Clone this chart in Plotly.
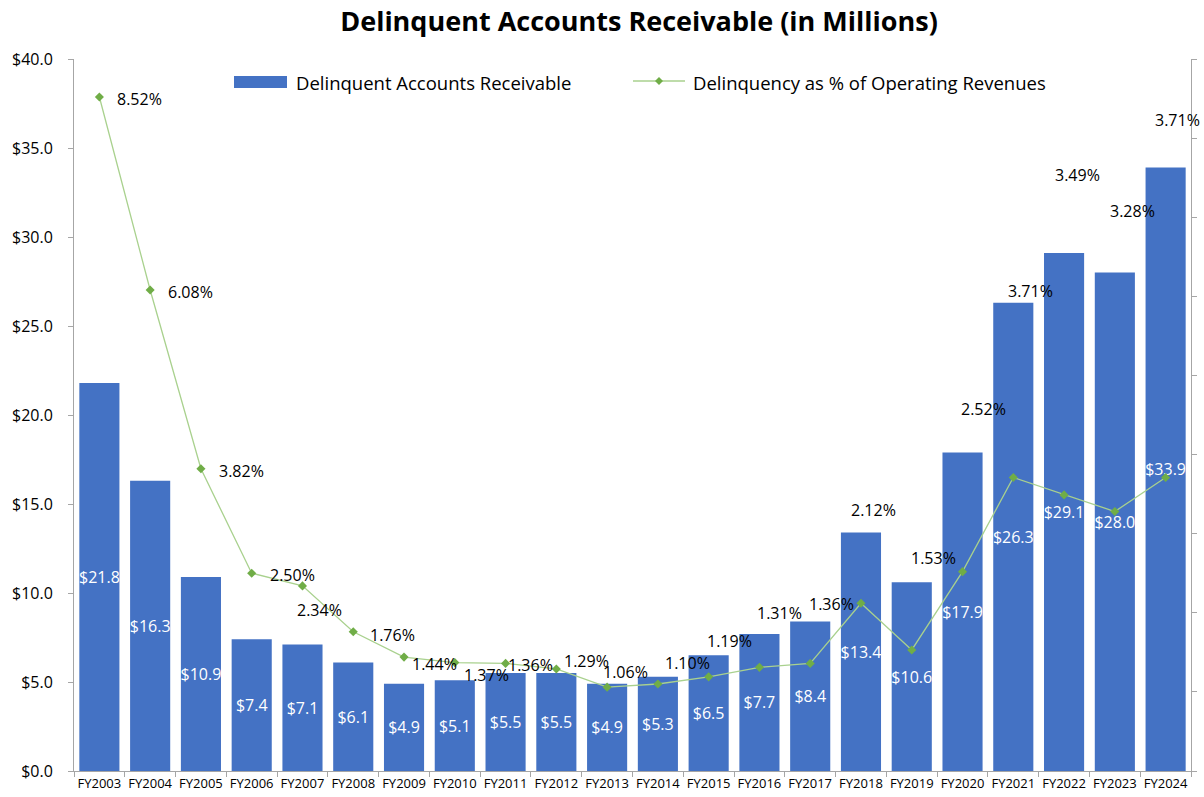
import plotly.graph_objects as go

# Fiscal years and values
years = ["FY2003", "FY2004", "FY2005", "FY2006", "FY2007", "FY2008", "FY2009",
         "FY2010", "FY2011", "FY2012", "FY2013", "FY2014", "FY2015", "FY2016",
         "FY2017", "FY2018", "FY2019", "FY2020", "FY2021", "FY2022", "FY2023",
         "FY2024"]
receivable_musd = [21.8, 16.3, 10.9, 7.4, 7.1, 6.1, 4.9, 5.1, 5.5, 5.5, 4.9,
                   5.3, 6.5, 7.7, 8.4, 13.4, 10.6, 17.9, 26.3, 29.1, 28.0, 33.9]
delinquency_pct = [8.52, 6.08, 3.82, 2.50, 2.34, 1.76, 1.44, 1.37, 1.36, 1.29,
                   1.06, 1.10, 1.19, 1.31, 1.36, 2.12, 1.53, 2.52, 3.71, 3.49,
                   3.28, 3.71]

# Pixel offsets (right, down) of each percentage label from its marker
pct_label_offsets = [(17, 2), (17, 2), (17, 2), (17, 2), (-6, 24), (16, 3),
                     (7, 7), (8, 12), (1, 2), (7, -8), (-5, -15), (6, -21),
                     (-3, -36), (-3, -54), (-2, -59), (-11, -93), (-2, -92),
                     (-3, -163), (-6, -187), (-10, -320), (-6, -301),
                     (-12, -358)]

BAR_BLUE = "#4472C4"
LINE_GREEN = "#A9D18E"
MARKER_GREEN = "#70AD47"
AXIS_GREY = "#A6A6A6"
FONT = "Open Sans"

W, H = 1204, 797
M_L, M_R, M_T, M_B = 74, 13, 59, 26
PLOT_W = W - M_L - M_R
PLOT_H = H - M_T - M_B


def px_x(x):
    return (x - M_L) / PLOT_W


def px_y(y):
    return (H - M_B - y) / PLOT_H


fig = go.Figure()

fig.add_trace(go.Bar(
    x=years, y=receivable_musd, name="Delinquent Accounts Receivable",
    marker=dict(color=BAR_BLUE, line=dict(width=0)),
    texttemplate="$%{y:.1f}", textposition="inside", insidetextanchor="middle",
    textangle=0, constraintext="none",
    textfont=dict(color="white", size=16, family=FONT),
    cliponaxis=False, showlegend=False,
))

fig.add_trace(go.Scatter(
    x=years, y=delinquency_pct, yaxis="y2",
    name="Delinquency as % of Operating Revenues",
    mode="lines+markers",
    line=dict(color=LINE_GREEN, width=1.3),
    marker=dict(symbol="diamond", size=7, color=MARKER_GREEN),
    showlegend=False,
))

annotations = []
for yr, pct, (dx, dy) in zip(years, delinquency_pct, pct_label_offsets):
    annotations.append(dict(
        x=yr, y=pct, xref="x", yref="y2", text=f"{pct:.2f}%",
        showarrow=False, xanchor="left", yanchor="middle",
        xshift=dx, yshift=-dy, borderpad=0,
        font=dict(size=16, color="#000000", family=FONT),
    ))

# Legend drawn along the top of the plot area
annotations += [
    dict(x=px_x(294), y=px_y(82), xref="paper", yref="paper",
         text="Delinquent Accounts Receivable", showarrow=False,
         xanchor="left", yanchor="middle",
         font=dict(size=18.5, color="#000000", family=FONT)),
    dict(x=px_x(691), y=px_y(82), xref="paper", yref="paper",
         text="Delinquency as % of Operating Revenues", showarrow=False,
         xanchor="left", yanchor="middle",
         font=dict(size=18.5, color="#000000", family=FONT)),
]

dx0 = px_x(659)
dy0 = px_y(81)
dw = 4 / PLOT_W
dh = 4 / PLOT_H
shapes = [
    dict(type="rect", xref="paper", yref="paper",
         x0=px_x(234), x1=px_x(287), y0=px_y(88), y1=px_y(76),
         fillcolor=BAR_BLUE, line=dict(width=0)),
    dict(type="line", xref="paper", yref="paper",
         x0=px_x(633), x1=px_x(685), y0=dy0, y1=dy0,
         line=dict(color=LINE_GREEN, width=1.3)),
    dict(type="path", xref="paper", yref="paper",
         path=(f"M {dx0 - dw} {dy0} L {dx0} {dy0 + dh} "
               f"L {dx0 + dw} {dy0} L {dx0} {dy0 - dh} Z"),
         fillcolor=MARKER_GREEN, line=dict(width=0)),
]

fig.update_layout(
    width=W, height=H,
    margin=dict(l=M_L, r=M_R, t=M_T, b=M_B, pad=0),
    paper_bgcolor="white", plot_bgcolor="white",
    font=dict(family=FONT, color="#000000"),
    title=dict(text="<b>Delinquent Accounts Receivable (in Millions)</b>",
               x=639 / W, xanchor="center", xref="container",
               y=1 - 22 / H, yanchor="middle", yref="container",
               font=dict(size=27, color="#000000", family=FONT)),
    bargap=0.21,
    uniformtext=dict(minsize=16, mode="show"),
    xaxis=dict(
        type="category", range=[-0.5, len(years) - 0.5],
        showline=True, linecolor=AXIS_GREY, linewidth=1,
        ticks="outside", tickson="boundaries", ticklen=5, tickcolor=AXIS_GREY,
        tickangle=0, automargin=False,
        tickfont=dict(size=13, color="#000000", family=FONT),
        showgrid=False, zeroline=False,
    ),
    yaxis=dict(
        range=[0, 40], dtick=5, tickprefix="$", tickformat=".1f",
        showline=True, linecolor=AXIS_GREY, linewidth=1, automargin=False,
        ticks="outside", ticklen=5, tickcolor=AXIS_GREY,
        ticklabelstandoff=12,
        tickfont=dict(size=16, color="#000000", family=FONT),
        showgrid=False, zeroline=False,
    ),
    yaxis2=dict(
        range=[0, 9], dtick=1, overlaying="y", side="right",
        showticklabels=False, showline=True, linecolor=AXIS_GREY,
        linewidth=1, ticks="outside", ticklen=5, tickcolor=AXIS_GREY,
        showgrid=False, zeroline=False, automargin=False,
    ),
    annotations=annotations,
    shapes=shapes,
)

fig.write_html("out.html")
